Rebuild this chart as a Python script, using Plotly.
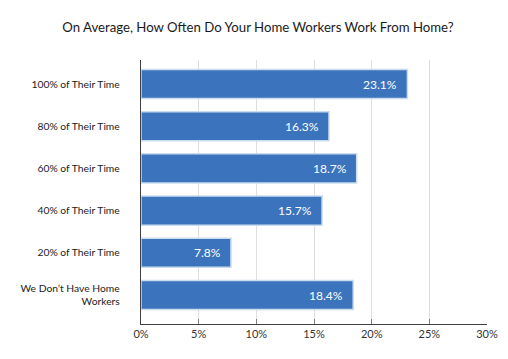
import plotly.graph_objects as go

categories = ["100% of Their Time", "80% of Their Time", "60% of Their Time",
              "40% of Their Time", "20% of Their Time", "We Don’t Have Home<br>Workers"]
values = [23.1, 16.3, 18.7, 15.7, 7.8, 18.4]
x_ticks = [0, 5, 10, 15, 20, 25, 30]
x_tick_labels = ["0%", "5%", "10%", "15%", "20%", "25%", "30%"]

FONT = "Lato"
pos = list(range(len(categories)))

# page body has an 8px margin, so the figure is sized / offset to compensate
W, H = 500, 351

fig = go.Figure()
fig.add_trace(go.Bar(
    y=pos, x=values, orientation="h", width=0.69,
    marker=dict(color="#3B74BD", line=dict(color="#C9DCF0", width=1.5)),
    hoverinfo="skip",
))
for p, v in zip(pos, values):
    fig.add_annotation(x=v, y=p, xref="x", yref="y", text=f"{v:.1f}%",
                       showarrow=False, xanchor="right", xshift=-8,
                       font=dict(family=FONT, size=12, color="white"))

fig.update_layout(
    width=W, height=H,
    margin=dict(l=133, r=21, t=52, b=35, autoexpand=False),
    paper_bgcolor="white", plot_bgcolor="white",
    showlegend=False,
    title=dict(text="On Average, How Often Do Your Home Workers Work From Home?",
               x=0.5, xanchor="center", y=1 - 19 / H, yanchor="middle",
               font=dict(family=FONT, size=13.2, color="#1a1a1a")),
    font=dict(family=FONT, color="#333333"),
)
fig.update_xaxes(range=[0, 30], tickvals=x_ticks, ticktext=x_tick_labels,
                 showgrid=True, gridcolor="#DEDEDE", gridwidth=1,
                 showline=True, linecolor="#404040", linewidth=1.3,
                 ticks="inside", ticklen=5, tickcolor="#808080",
                 tickfont=dict(family=FONT, size=11, color="#333333"),
                 zeroline=False, fixedrange=True, automargin=False)
fig.update_yaxes(range=[5.687, -0.569], tickvals=pos, ticktext=categories,
                 showgrid=False, showline=True, linecolor="#404040", linewidth=1.3,
                 ticks="", ticklabelstandoff=18,
                 tickfont=dict(family=FONT, size=10.3, color="#222222"),
                 zeroline=False, fixedrange=True, automargin=False)

fig.write_html("out.html")
